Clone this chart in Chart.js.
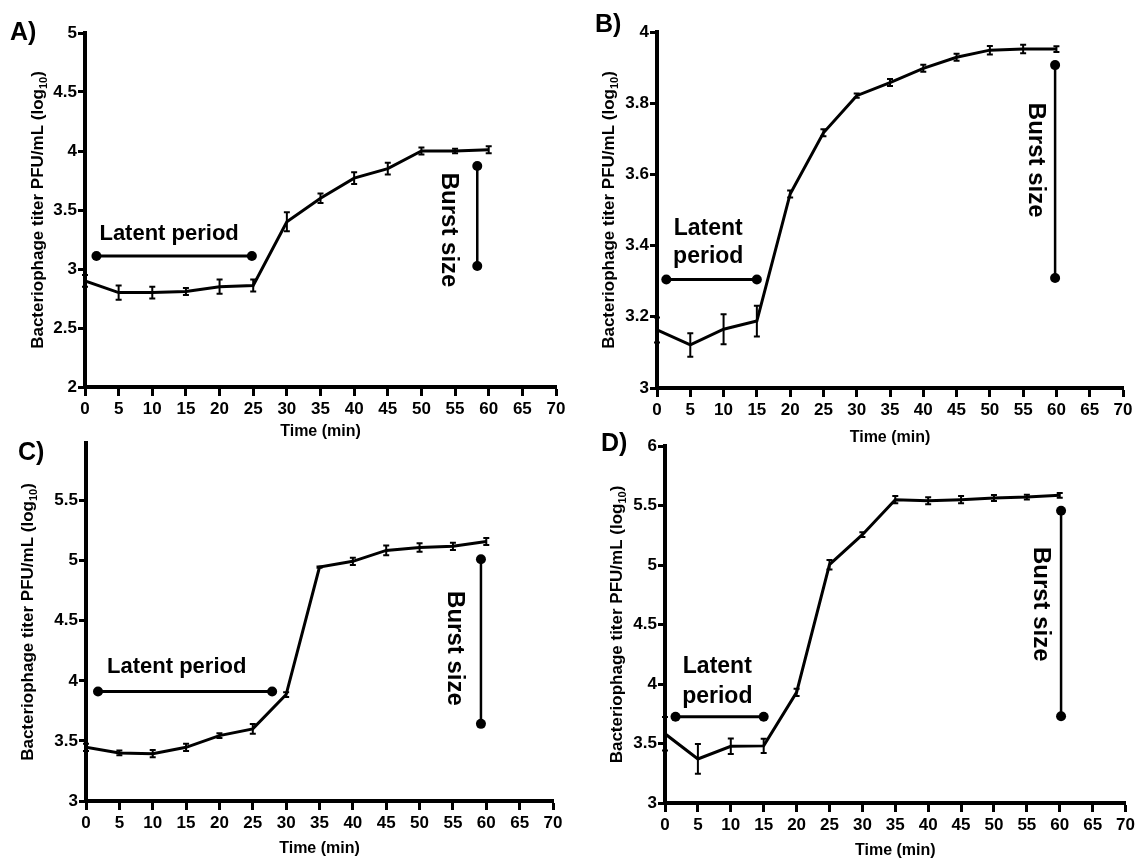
<!DOCTYPE html>
<html>
<head>
<meta charset="utf-8">
<script src="https://cdn.jsdelivr.net/npm/chart.js@4.4.1/dist/chart.umd.min.js"></script>
<style>
  body { margin: 0; background: #fff; }
  #wrap { position: relative; width: 1138px; height: 858px; overflow: hidden; }
  canvas { position: absolute; }
</style>
</head>
<body>
<div id="wrap">
  <canvas id="chartA" width="569" height="445" style="left:0px;top:0px"></canvas>
  <canvas id="chartB" width="569" height="450" style="left:569px;top:0px"></canvas>
  <canvas id="chartC" width="569" height="428" style="left:0px;top:430px"></canvas>
  <canvas id="chartD" width="569" height="432" style="left:569px;top:430px"></canvas>
</div>
<script>
// time points (min)
const times = [0, 5, 10, 15, 20, 25, 30, 35, 40, 45, 50, 55, 60];
const xTicks = [0, 5, 10, 15, 20, 25, 30, 35, 40, 45, 50, 55, 60, 65, 70];

// titer (log10 PFU/mL) and error bars
const titerA = [2.90, 2.80, 2.80, 2.81, 2.85, 2.86, 3.40, 3.60, 3.77, 3.85, 4.00, 4.00, 4.01];
const errA   = [0.05, 0.06, 0.05, 0.03, 0.06, 0.05, 0.08, 0.04, 0.05, 0.05, 0.03, 0.02, 0.03];
const titerB = [3.163, 3.121, 3.165, 3.188, 3.545, 3.717, 3.821, 3.858, 3.898, 3.929, 3.949, 3.952, 3.952];
const errB   = [0.035, 0.033, 0.042, 0.043, 0.010, 0.010, 0.006, 0.010, 0.010, 0.010, 0.012, 0.012, 0.008];
const titerC = [3.447, 3.400, 3.394, 3.447, 3.544, 3.600, 3.886, 4.947, 4.995, 5.086, 5.110, 5.120, 5.160];
const errC   = [0.03, 0.02, 0.03, 0.03, 0.02, 0.04, 0.02, 0.005, 0.03, 0.04, 0.035, 0.03, 0.03];
const titerD = [3.582, 3.370, 3.476, 3.480, 3.930, 5.003, 5.255, 5.549, 5.540, 5.549, 5.563, 5.571, 5.586];
const errD   = [0.14, 0.125, 0.065, 0.06, 0.03, 0.04, 0.02, 0.03, 0.03, 0.03, 0.025, 0.02, 0.02];

// y tick labels
const yTicksA = [2, 2.5, 3, 3.5, 4, 4.5, 5];
const yTicksB = [3, 3.2, 3.4, 3.6, 3.8, 4];
const yTicksC = [3, 3.5, 4, 4.5, 5, 5.5];
const yTicksD = [3, 3.5, 4, 4.5, 5, 5.5, 6];

// latent period bars: [start, end] time and level
const latentA = [1.7, 24.8];  const latentLevelA = 3.11;
const latentB = [1.4, 15.0];  const latentLevelB = 3.305;
const latentC = [1.8, 27.9];  const latentLevelC = 3.911;
const latentD = [1.6, 15.0];  const latentLevelD = 3.725;

// burst size bars: [low, high] level and time
const burstA = [3.025, 3.873]; const burstTimeA = 58.3;
const burstB = [3.309, 3.907]; const burstTimeB = 59.8;
const burstC = [3.642, 5.012]; const burstTimeC = 59.2;
const burstD = [3.729, 5.456]; const burstTimeD = 60.2;

Chart.defaults.font.family = '"Liberation Sans Narrow", "Liberation Sans", Arial, sans-serif';
Chart.defaults.font.weight = 'bold';
Chart.defaults.font.size = 17;
Chart.defaults.color = '#000';

const extras = {
    id: 'extras',
    afterDatasetsDraw(chart, args, opts) {
        const ctx = chart.ctx;
        const x = chart.scales.x, y = chart.scales.y;
        ctx.save();
        // error bars
        ctx.strokeStyle = '#000';
        ctx.lineWidth = 2;
        opts.errors.forEach((e, i) => {
            const px = x.getPixelForValue(times[i]);
            const top = y.getPixelForValue(opts.values[i] + e);
            const bot = y.getPixelForValue(opts.values[i] - e);
            ctx.beginPath();
            ctx.moveTo(px, top); ctx.lineTo(px, bot);
            ctx.moveTo(px - 3, top); ctx.lineTo(px + 3, top);
            ctx.moveTo(px - 3, bot); ctx.lineTo(px + 3, bot);
            ctx.stroke();
        });
        // annotation texts
        ctx.fillStyle = '#000';
        opts.notes.forEach(n => {
            ctx.save();
            ctx.font = 'bold ' + n.size + 'px "Liberation Sans", Arial, sans-serif';
            ctx.translate(x.getPixelForValue(n.x), y.getPixelForValue(n.y));
            if (n.rotate) {
                ctx.rotate(Math.PI / 2);
                ctx.textBaseline = 'middle';
            } else {
                ctx.textBaseline = 'alphabetic';
            }
            ctx.textAlign = 'center';
            ctx.fillText(n.text, 0, 0);
            ctx.restore();
        });
        ctx.restore();
    },
    afterDraw(chart, args, opts) {
        const ctx = chart.ctx;
        const area = chart.chartArea;
        ctx.save();
        ctx.fillStyle = '#000';
        // panel letter
        ctx.font = 'bold 25px "Liberation Sans", Arial, sans-serif';
        ctx.textAlign = 'left';
        ctx.textBaseline = 'alphabetic';
        ctx.fillText(opts.letter, opts.letterX, opts.letterY);
        // y title with subscript
        const mainFont = 'bold 17px "Liberation Sans", Arial, sans-serif';
        const subFont = 'bold 11px "Liberation Sans", Arial, sans-serif';
        const t1 = 'Bacteriophage titer PFU/mL (log', t2 = '10', t3 = ')';
        ctx.font = mainFont;
        const w1 = ctx.measureText(t1).width, w3 = ctx.measureText(t3).width;
        ctx.font = subFont;
        const w2 = ctx.measureText(t2).width;
        ctx.translate(area.left - opts.titleOffset, (area.top + area.bottom) / 2);
        ctx.rotate(-Math.PI / 2);
        let sx = -(w1 + w2 + w3) / 2;
        ctx.font = mainFont;
        ctx.fillText(t1, sx, 0); sx += w1;
        ctx.font = subFont;
        ctx.fillText(t2, sx, 4); sx += w2;
        ctx.font = mainFont;
        ctx.fillText(t3, sx, 0);
        ctx.restore();
    }
};

function makePanel(id, p) {
    const series = times.map((t, i) => ({x: t, y: p.values[i]}));
    const latentLine = p.latent.map(t => ({x: t, y: p.latentLevel}));
    const burstLine = p.burst.map(v => ({x: p.burstTime, y: v}));
    const marker = {
        borderColor: '#000', borderWidth: 3,
        pointRadius: 5, pointBackgroundColor: '#000', pointBorderWidth: 0,
        pointHoverRadius: 5
    };
    new Chart(document.getElementById(id), {
        type: 'line',
        data: {
            datasets: [
                { data: series, borderColor: '#000', borderWidth: 3, pointRadius: 0, tension: 0 },
                Object.assign({ data: latentLine }, marker),
                Object.assign({ data: burstLine }, marker, { borderWidth: 2.5 })
            ]
        },
        options: {
            responsive: false,
            animation: false,
            events: [],
            layout: { padding: { left: 0, top: p.padTop, right: p.padRight, bottom: 0 } },
            plugins: {
                legend: { display: false },
                tooltip: { enabled: false },
                extras: {
                    values: p.values, errors: p.errors, notes: p.notes,
                    letter: p.letter, letterX: p.letterX, letterY: p.letterY,
                    titleOffset: p.titleOffset
                }
            },
            scales: {
                x: {
                    type: 'linear', min: 0, max: 70,
                    afterBuildTicks: s => { s.ticks = xTicks.map(v => ({value: v})); },
                    afterFit: s => { s.height = p.xHeight; },
                    grid: { drawOnChartArea: false, drawTicks: true, tickLength: 9, tickWidth: 3, tickColor: '#000', color: '#000' },
                    border: { display: true, color: '#000', width: 4 },
                    ticks: { padding: 3, maxRotation: 0, autoSkip: false, callback: v => String(v) },
                    title: { display: true, text: 'Time (min)', font: { size: 16, weight: 'bold' }, padding: { top: 0, bottom: p.titlePad } }
                },
                y: {
                    type: 'linear', min: p.yTicks[0], max: p.yMax,
                    afterBuildTicks: s => { s.ticks = p.yTicks.map(v => ({value: v})); },
                    afterFit: s => { s.width = p.yWidth; },
                    grid: { drawOnChartArea: false, drawTicks: true, tickLength: 7, tickWidth: 3, tickColor: '#000', color: '#000' },
                    border: { display: true, color: '#000', width: 4 },
                    ticks: { padding: 1, autoSkip: false, callback: v => String(v) }
                }
            }
        },
        plugins: [extras]
    });
}

makePanel('chartA', {
    values: titerA, errors: errA, yTicks: yTicksA, yMax: 5,
    latent: latentA, latentLevel: latentLevelA, burst: burstA, burstTime: burstTimeA,
    notes: [
        { text: 'Latent period', x: 12.5, y: 3.25, size: 22 },
        { text: 'Burst size', x: 54.0, y: 3.33, size: 24, rotate: true }
    ],
    letter: 'A)', letterX: 10, letterY: 40,
    padTop: 33, padRight: 13, yWidth: 85, xHeight: 58, titlePad: 4, titleOffset: 42
});

makePanel('chartB', {
    values: titerB, errors: errB, yTicks: yTicksB, yMax: 4,
    latent: latentB, latentLevel: latentLevelB, burst: burstB, burstTime: burstTimeB,
    notes: [
        { text: 'Latent', x: 7.7, y: 3.43, size: 23 },
        { text: 'period', x: 7.7, y: 3.35, size: 23 },
        { text: 'Burst size', x: 56.8, y: 3.64, size: 24, rotate: true }
    ],
    letter: 'B)', letterX: 26, letterY: 32,
    padTop: 32, padRight: 15, yWidth: 88, xHeight: 62, titlePad: 3, titleOffset: 43
});

makePanel('chartC', {
    values: titerC, errors: errC, yTicks: yTicksC, yMax: 5.98,
    latent: latentC, latentLevel: latentLevelC, burst: burstC, burstTime: burstTimeC,
    notes: [
        { text: 'Latent period', x: 13.6, y: 4.063, size: 22 },
        { text: 'Burst size', x: 55.2, y: 4.27, size: 24, rotate: true }
    ],
    letter: 'C)', letterX: 18, letterY: 30,
    padTop: 13, padRight: 16, yWidth: 86, xHeight: 57, titlePad: 0, titleOffset: 53
});

makePanel('chartD', {
    values: titerD, errors: errD, yTicks: yTicksD, yMax: 6,
    latent: latentD, latentLevel: latentLevelD, burst: burstD, burstTime: burstTimeD,
    notes: [
        { text: 'Latent', x: 7.95, y: 4.09, size: 23 },
        { text: 'period', x: 7.95, y: 3.84, size: 23 },
        { text: 'Burst size', x: 57.1, y: 4.67, size: 24, rotate: true }
    ],
    letter: 'D)', letterX: 32, letterY: 21,
    padTop: 16, padRight: 10, yWidth: 96, xHeight: 59, titlePad: 2, titleOffset: 43
});
</script>
</body>
</html>
